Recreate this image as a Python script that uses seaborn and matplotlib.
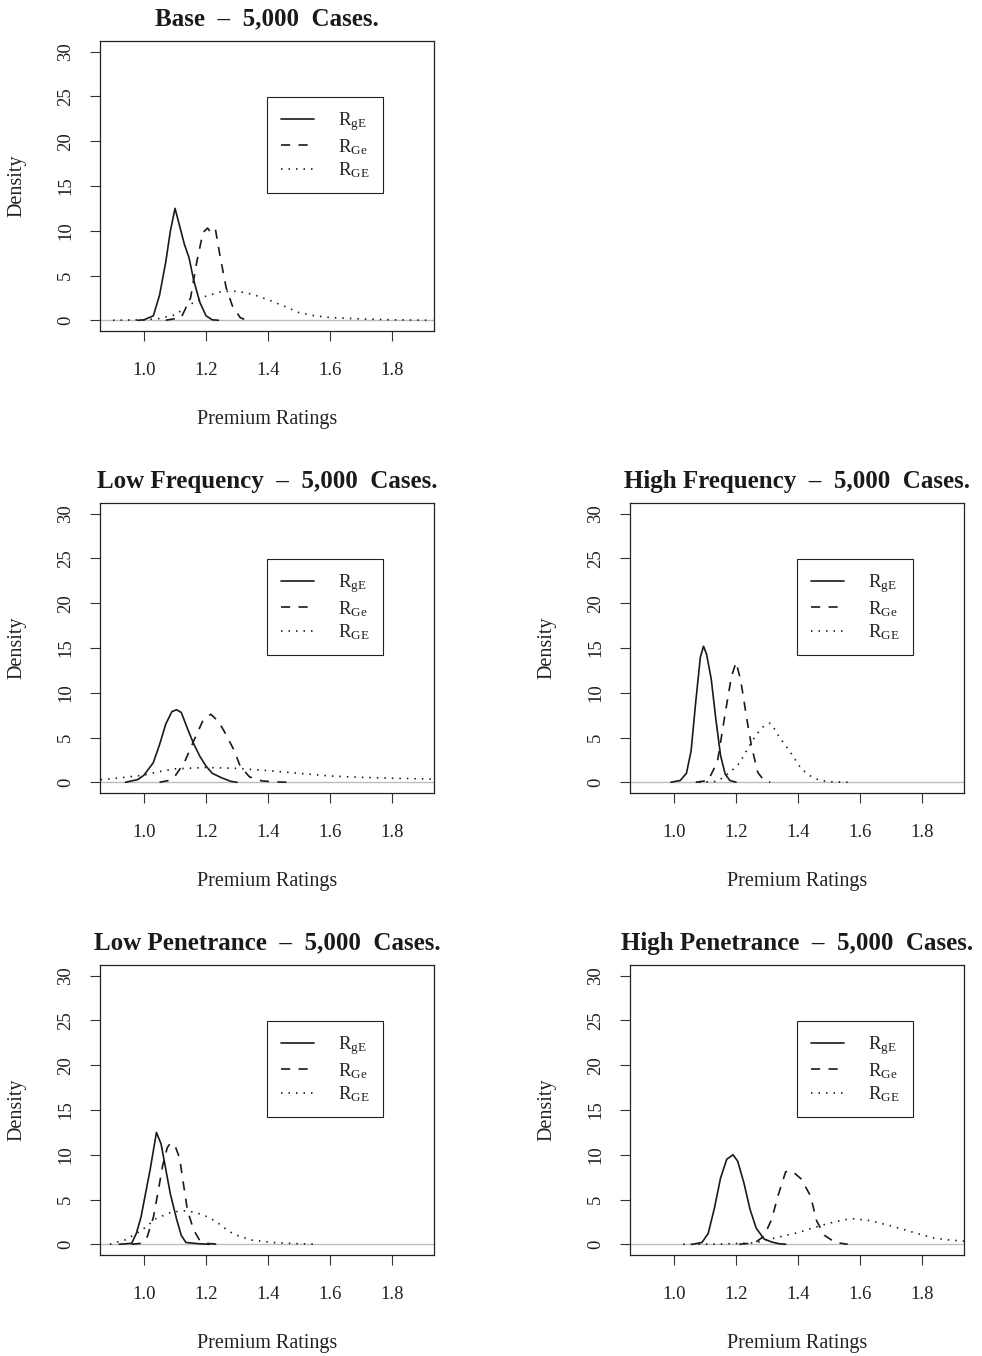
import numpy as np
import pandas as pd
import matplotlib
matplotlib.use("Agg")
import matplotlib.pyplot as plt
import seaborn as sns

# ---------------- data ----------------
# Base
base_gE_x = [0.98, 1.00, 1.03, 1.05, 1.07, 1.085, 1.10, 1.115, 1.13, 1.145, 1.16, 1.18, 1.20, 1.22, 1.24]
base_gE_y = [0.0, 0.05, 0.5, 2.8, 6.5, 10.0, 12.5, 10.5, 8.5, 7.0, 4.5, 2.0, 0.5, 0.05, 0.0]
base_Ge_x = [1.07, 1.12, 1.15, 1.17, 1.19, 1.205, 1.215, 1.23, 1.245, 1.265, 1.285, 1.31, 1.33]
base_Ge_y = [0.0, 0.3, 2.5, 6.5, 9.8, 10.3, 9.8, 10.2, 7.2, 3.6, 1.6, 0.3, 0.0]
base_GE_x = [0.90, 1.00, 1.05, 1.10, 1.15, 1.20, 1.25, 1.30, 1.35, 1.40, 1.45, 1.50, 1.55, 1.60, 1.70, 1.80, 1.93]
base_GE_y = [0.0, 0.05, 0.2, 0.6, 1.8, 2.7, 3.2, 3.25, 2.9, 2.3, 1.6, 0.85, 0.5, 0.3, 0.15, 0.05, 0.0]

# Low Frequency
lowf_gE_x = [0.94, 0.98, 1.00, 1.03, 1.05, 1.07, 1.09, 1.105, 1.12, 1.14, 1.16, 1.18, 1.20, 1.22, 1.25, 1.28, 1.30]
lowf_gE_y = [0.0, 0.3, 0.8, 2.2, 4.2, 6.5, 7.9, 8.1, 7.8, 6.0, 4.3, 2.9, 1.8, 1.0, 0.5, 0.1, 0.0]
lowf_Ge_x = [1.05, 1.08, 1.10, 1.13, 1.16, 1.19, 1.215, 1.24, 1.26, 1.29, 1.31, 1.34, 1.38, 1.42, 1.46]
lowf_Ge_y = [0.0, 0.2, 0.7, 2.2, 4.6, 6.9, 7.6, 6.8, 5.6, 3.6, 1.8, 0.6, 0.15, 0.05, 0.0]
lowf_GE_x = [0.86, 0.90, 1.00, 1.05, 1.10, 1.20, 1.30, 1.40, 1.50, 1.60, 1.70, 1.80, 1.935]
lowf_GE_y = [0.3, 0.4, 0.8, 1.2, 1.5, 1.65, 1.55, 1.3, 1.0, 0.7, 0.55, 0.45, 0.35]

# High Frequency
highf_gE_x = [0.99, 1.02, 1.04, 1.055, 1.07, 1.085, 1.095, 1.105, 1.12, 1.135, 1.15, 1.165, 1.18, 1.20]
highf_gE_y = [0.0, 0.2, 1.0, 3.5, 9.0, 14.0, 15.2, 14.3, 11.5, 7.0, 3.0, 0.9, 0.2, 0.0]
highf_Ge_x = [1.07, 1.11, 1.14, 1.165, 1.185, 1.20, 1.215, 1.235, 1.25, 1.27, 1.29, 1.31]
highf_Ge_y = [0.0, 0.2, 2.3, 7.7, 11.8, 13.4, 11.4, 7.0, 4.0, 1.1, 0.2, 0.0]
highf_GE_x = [1.08, 1.14, 1.18, 1.21, 1.24, 1.265, 1.29, 1.31, 1.325, 1.34, 1.36, 1.38, 1.41, 1.44, 1.47, 1.51, 1.56]
highf_GE_y = [0.0, 0.1, 1.1, 2.1, 3.9, 5.3, 6.3, 6.6, 5.9, 5.0, 4.1, 3.1, 1.5, 0.7, 0.2, 0.05, 0.0]

# Low Penetrance
lowp_gE_x = [0.92, 0.96, 0.975, 0.99, 1.00, 1.02, 1.04, 1.055, 1.07, 1.085, 1.105, 1.12, 1.135, 1.18, 1.21]
lowp_gE_y = [0.0, 0.1, 1.2, 3.0, 4.8, 8.4, 12.5, 11.2, 8.4, 5.6, 2.8, 1.0, 0.2, 0.05, 0.0]
lowp_Ge_x = [0.96, 0.99, 1.01, 1.03, 1.045, 1.06, 1.075, 1.085, 1.10, 1.115, 1.125, 1.14, 1.16, 1.18, 1.20, 1.24]
lowp_Ge_y = [0.0, 0.1, 0.8, 3.0, 5.8, 8.8, 10.8, 11.3, 11.0, 9.6, 7.2, 3.8, 1.6, 0.4, 0.1, 0.0]
lowp_GE_x = [0.89, 0.94, 0.99, 1.04, 1.09, 1.14, 1.19, 1.23, 1.26, 1.29, 1.35, 1.42, 1.49, 1.56]
lowp_GE_y = [0.0, 0.5, 1.5, 2.9, 3.6, 3.75, 3.3, 2.6, 1.8, 1.1, 0.45, 0.18, 0.07, 0.0]

# High Penetrance
highp_gE_x = [1.06, 1.09, 1.11, 1.13, 1.15, 1.17, 1.19, 1.205, 1.225, 1.245, 1.265, 1.29, 1.315, 1.34, 1.36]
highp_gE_y = [0.0, 0.2, 1.2, 4.0, 7.4, 9.5, 10.0, 9.3, 6.9, 3.9, 1.8, 0.6, 0.25, 0.05, 0.0]
highp_Ge_x = [1.21, 1.26, 1.29, 1.315, 1.335, 1.36, 1.38, 1.41, 1.44, 1.46, 1.485, 1.52, 1.56]
highp_Ge_y = [0.0, 0.15, 0.9, 2.8, 5.4, 8.1, 8.2, 7.3, 5.4, 2.6, 1.0, 0.2, 0.0]
highp_GE_x = [1.03, 1.15, 1.25, 1.28, 1.33, 1.40, 1.45, 1.50, 1.55, 1.58, 1.63, 1.70, 1.77, 1.83, 1.88, 1.935]
highp_GE_y = [0.0, 0.02, 0.15, 0.3, 0.75, 1.3, 1.85, 2.35, 2.75, 2.85, 2.65, 2.05, 1.35, 0.75, 0.5, 0.35]

panel_titles = ["Base  \u2013  5,000  Cases.",
                "Low Frequency  \u2013  5,000  Cases.",
                "High Frequency  \u2013  5,000  Cases.",
                "Low Penetrance  \u2013  5,000  Cases.",
                "High Penetrance  \u2013  5,000  Cases."]
series_labels = [r"R$_{\mathregular{gE}}$", r"R$_{\mathregular{Ge}}$", r"R$_{\mathregular{GE}}$"]
x_ticks = [1.0, 1.2, 1.4, 1.6, 1.8]
x_tick_labels = ["1.0", "1.2", "1.4", "1.6", "1.8"]
y_ticks = [0, 5, 10, 15, 20, 25, 30]
x_label = "Premium Ratings"
y_label = "Density"

panels = [
    (base_gE_x, base_gE_y, base_Ge_x, base_Ge_y, base_GE_x, base_GE_y),
    (lowf_gE_x, lowf_gE_y, lowf_Ge_x, lowf_Ge_y, lowf_GE_x, lowf_GE_y),
    (highf_gE_x, highf_gE_y, highf_Ge_x, highf_Ge_y, highf_GE_x, highf_GE_y),
    (lowp_gE_x, lowp_gE_y, lowp_Ge_x, lowp_Ge_y, lowp_GE_x, lowp_GE_y),
    (highp_gE_x, highp_gE_y, highp_Ge_x, highp_Ge_y, highp_GE_x, highp_GE_y),
]

# ---------------- style ----------------
sns.set_theme(style="white")
plt.rcParams["font.family"] = ["Liberation Serif", "DejaVu Serif"]
plt.rcParams["mathtext.fontset"] = "custom"
plt.rcParams["mathtext.rm"] = "Liberation Serif"
plt.rcParams["mathtext.it"] = "Liberation Serif:italic"
plt.rcParams["mathtext.bf"] = "Liberation Serif:bold"
plt.rcParams["axes.edgecolor"] = "#222222"
plt.rcParams["axes.linewidth"] = 0.9

line_color = "#1a1a1a"
styles = [dict(linestyle="-"),
          dict(linestyle=(0, (5.5, 5.0))),
          dict(linestyle=(0, (0.9, 3.6)))]

fig = plt.figure(figsize=(9.82, 13.56), dpi=100)
W, H = 982.0, 1356.0
ax_w, ax_h = 334 / W, 290 / H
col_left = [100 / W, 630 / W]
row_bottom = [1 - 331 / H, 1 - 793 / H, 1 - 1255 / H]
positions = [(0, 0), (1, 0), (1, 1), (2, 0), (2, 1)]

for (r, c), title, pdata in zip(positions, panel_titles, panels):
    ax = fig.add_axes([col_left[c], row_bottom[r], ax_w, ax_h])
    ax.axhline(0, color="#bdbdbd", lw=1.0, zorder=1)
    for k in range(3):
        df = pd.DataFrame({"x": pdata[2 * k], "y": pdata[2 * k + 1]})
        sns.lineplot(data=df, x="x", y="y", ax=ax, sort=False, estimator=None,
                     color=line_color, lw=1.2, label=series_labels[k],
                     zorder=3, **styles[k])
    ax.set_xlim(0.858, 1.935)
    ax.set_ylim(-1.2, 31.2)
    ax.set_xticks(x_ticks)
    ax.set_xticklabels(x_tick_labels)
    ax.set_yticks(y_ticks)
    ax.set_yticklabels([str(v) for v in y_ticks], rotation=90, va="center")
    ax.tick_params(axis="both", direction="out", length=7.5, width=0.8,
                   color="#333333", labelsize=13.5, labelcolor="#222222",
                   bottom=True, left=True)
    ax.tick_params(axis="x", pad=15)
    ax.tick_params(axis="y", pad=11)
    ax.set_xlabel(x_label, fontsize=14.5, color="#222222", labelpad=22)
    ax.set_ylabel(y_label, fontsize=14.5, color="#222222", labelpad=22.5)
    ax.set_title(title, fontsize=18, fontweight="bold", color="#1a1a1a", pad=11)
    for s in ax.spines.values():
        s.set_visible(True)
        s.set_color("#222222")
    leg = ax.legend(loc="upper left", bbox_to_anchor=(0.5, 0.807),
                    borderaxespad=0, frameon=True, fancybox=False, shadow=False,
                    fontsize=13.5, handlelength=1.76, handletextpad=1.3,
                    labelspacing=0.19, borderpad=0.72, edgecolor="#222222",
                    framealpha=1)
    leg.get_frame().set_linewidth(0.8)
    for t in leg.get_texts():
        t.set_color("#222222")

fig.savefig("out.png", dpi=100)
